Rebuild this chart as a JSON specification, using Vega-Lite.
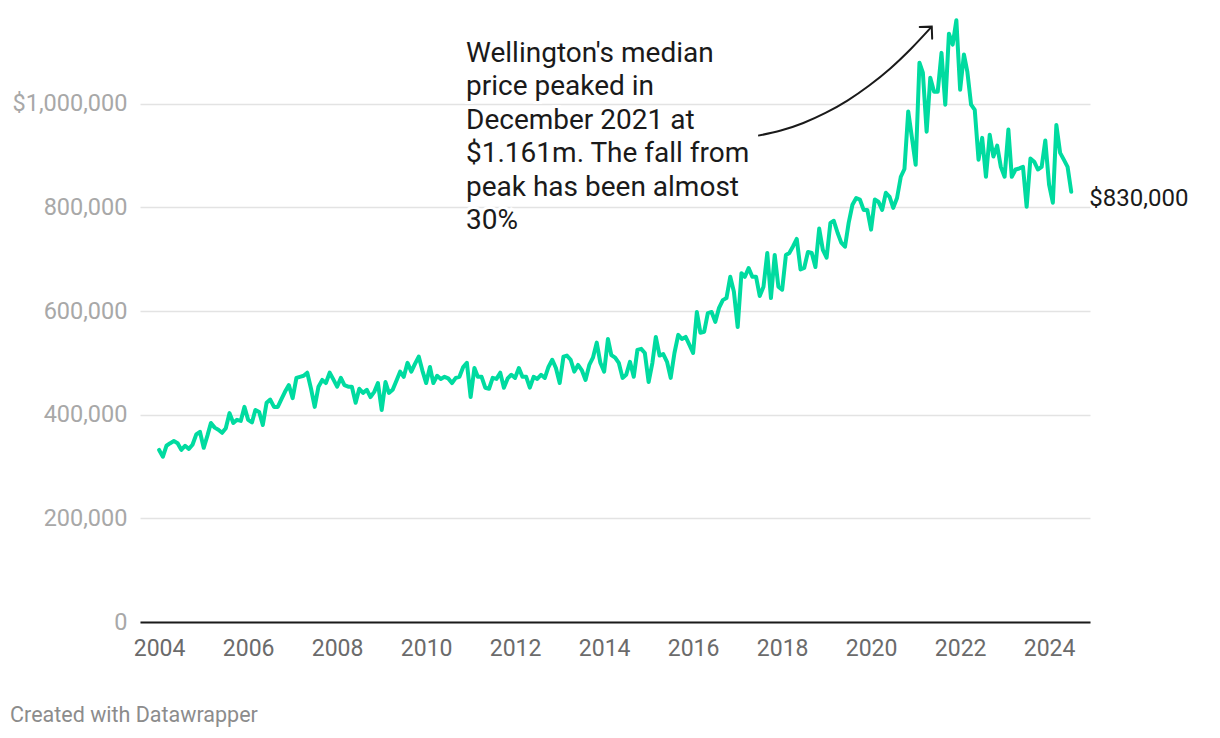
{
"$schema": "https://vega.github.io/schema/vega-lite/v6.json",
"width": 950, "height": 622,
"autosize": "none",
"padding": {"left": 140, "top": 0, "right": 130, "bottom": 116},
"background": "white",
"config": {"view": {"stroke": null}, "font": "Roboto"},
"title": {"text": "Created with Datawrapper", "orient": "bottom", "anchor": "start", "dx": -2, "offset": 45, "fontSize": 21.5, "fontWeight": "normal", "color": "#8c8c8c", "font": "Roboto"},
"datasets": {
"series": [
{"d":"2004-01-01","v":332000},{"d":"2004-02-01","v":319000},{"d":"2004-03-01","v":340000},{"d":"2004-04-01","v":345000},{"d":"2004-05-01","v":349000},{"d":"2004-06-01","v":345000},{"d":"2004-07-01","v":332000},{"d":"2004-08-01","v":340000},{"d":"2004-09-01","v":334000},{"d":"2004-10-01","v":342000},{"d":"2004-11-01","v":362000},{"d":"2004-12-01","v":367000},
{"d":"2005-01-01","v":336000},{"d":"2005-02-01","v":360000},{"d":"2005-03-01","v":384000},{"d":"2005-04-01","v":375000},{"d":"2005-05-01","v":371000},{"d":"2005-06-01","v":365000},{"d":"2005-07-01","v":374000},{"d":"2005-08-01","v":403000},{"d":"2005-09-01","v":384000},{"d":"2005-10-01","v":390000},{"d":"2005-11-01","v":388000},{"d":"2005-12-01","v":415000},
{"d":"2006-01-01","v":390000},{"d":"2006-02-01","v":385000},{"d":"2006-03-01","v":409000},{"d":"2006-04-01","v":405000},{"d":"2006-05-01","v":380000},{"d":"2006-06-01","v":423000},{"d":"2006-07-01","v":429000},{"d":"2006-08-01","v":415000},{"d":"2006-09-01","v":415000},{"d":"2006-10-01","v":430000},{"d":"2006-11-01","v":445000},{"d":"2006-12-01","v":457000},
{"d":"2007-01-01","v":432000},{"d":"2007-02-01","v":471000},{"d":"2007-03-01","v":473000},{"d":"2007-04-01","v":475000},{"d":"2007-05-01","v":481000},{"d":"2007-06-01","v":450000},{"d":"2007-07-01","v":415000},{"d":"2007-08-01","v":454000},{"d":"2007-09-01","v":467000},{"d":"2007-10-01","v":461000},{"d":"2007-11-01","v":481000},{"d":"2007-12-01","v":468000},
{"d":"2008-01-01","v":454000},{"d":"2008-02-01","v":471000},{"d":"2008-03-01","v":457000},{"d":"2008-04-01","v":454000},{"d":"2008-05-01","v":454000},{"d":"2008-06-01","v":423000},{"d":"2008-07-01","v":450000},{"d":"2008-08-01","v":442000},{"d":"2008-09-01","v":448000},{"d":"2008-10-01","v":434000},{"d":"2008-11-01","v":444000},{"d":"2008-12-01","v":461000},
{"d":"2009-01-01","v":409000},{"d":"2009-02-01","v":463000},{"d":"2009-03-01","v":442000},{"d":"2009-04-01","v":448000},{"d":"2009-05-01","v":465000},{"d":"2009-06-01","v":483000},{"d":"2009-07-01","v":473000},{"d":"2009-08-01","v":500000},{"d":"2009-09-01","v":483000},{"d":"2009-10-01","v":498000},{"d":"2009-11-01","v":512000},{"d":"2009-12-01","v":485000},
{"d":"2010-01-01","v":461000},{"d":"2010-02-01","v":492000},{"d":"2010-03-01","v":461000},{"d":"2010-04-01","v":475000},{"d":"2010-05-01","v":469000},{"d":"2010-06-01","v":473000},{"d":"2010-07-01","v":470000},{"d":"2010-08-01","v":461000},{"d":"2010-09-01","v":471000},{"d":"2010-10-01","v":473000},{"d":"2010-11-01","v":492000},{"d":"2010-12-01","v":500000},
{"d":"2011-01-01","v":434000},{"d":"2011-02-01","v":490000},{"d":"2011-03-01","v":473000},{"d":"2011-04-01","v":473000},{"d":"2011-05-01","v":452000},{"d":"2011-06-01","v":450000},{"d":"2011-07-01","v":471000},{"d":"2011-08-01","v":469000},{"d":"2011-09-01","v":481000},{"d":"2011-10-01","v":452000},{"d":"2011-11-01","v":470000},{"d":"2011-12-01","v":477000},
{"d":"2012-01-01","v":471000},{"d":"2012-02-01","v":490000},{"d":"2012-03-01","v":473000},{"d":"2012-04-01","v":473000},{"d":"2012-05-01","v":452000},{"d":"2012-06-01","v":473000},{"d":"2012-07-01","v":469000},{"d":"2012-08-01","v":477000},{"d":"2012-09-01","v":471000},{"d":"2012-10-01","v":492000},{"d":"2012-11-01","v":506000},{"d":"2012-12-01","v":490000},
{"d":"2013-01-01","v":461000},{"d":"2013-02-01","v":512000},{"d":"2013-03-01","v":514000},{"d":"2013-04-01","v":506000},{"d":"2013-05-01","v":483000},{"d":"2013-06-01","v":496000},{"d":"2013-07-01","v":486000},{"d":"2013-08-01","v":467000},{"d":"2013-09-01","v":496000},{"d":"2013-10-01","v":510000},{"d":"2013-11-01","v":539000},{"d":"2013-12-01","v":500000},
{"d":"2014-01-01","v":483000},{"d":"2014-02-01","v":546000},{"d":"2014-03-01","v":515000},{"d":"2014-04-01","v":510000},{"d":"2014-05-01","v":500000},{"d":"2014-06-01","v":471000},{"d":"2014-07-01","v":477000},{"d":"2014-08-01","v":502000},{"d":"2014-09-01","v":473000},{"d":"2014-10-01","v":525000},{"d":"2014-11-01","v":527000},{"d":"2014-12-01","v":519000},
{"d":"2015-01-01","v":463000},{"d":"2015-02-01","v":500000},{"d":"2015-03-01","v":550000},{"d":"2015-04-01","v":514000},{"d":"2015-05-01","v":517000},{"d":"2015-06-01","v":502000},{"d":"2015-07-01","v":471000},{"d":"2015-08-01","v":519000},{"d":"2015-09-01","v":554000},{"d":"2015-10-01","v":546000},{"d":"2015-11-01","v":550000},{"d":"2015-12-01","v":535000},
{"d":"2016-01-01","v":519000},{"d":"2016-02-01","v":598000},{"d":"2016-03-01","v":558000},{"d":"2016-04-01","v":560000},{"d":"2016-05-01","v":596000},{"d":"2016-06-01","v":598000},{"d":"2016-07-01","v":579000},{"d":"2016-08-01","v":606000},{"d":"2016-09-01","v":621000},{"d":"2016-10-01","v":625000},{"d":"2016-11-01","v":666000},{"d":"2016-12-01","v":637000},
{"d":"2017-01-01","v":569000},{"d":"2017-02-01","v":673000},{"d":"2017-03-01","v":666000},{"d":"2017-04-01","v":683000},{"d":"2017-05-01","v":666000},{"d":"2017-06-01","v":666000},{"d":"2017-07-01","v":629000},{"d":"2017-08-01","v":647000},{"d":"2017-09-01","v":712000},{"d":"2017-10-01","v":625000},{"d":"2017-11-01","v":708000},{"d":"2017-12-01","v":647000},
{"d":"2018-01-01","v":641000},{"d":"2018-02-01","v":708000},{"d":"2018-03-01","v":712000},{"d":"2018-04-01","v":725000},{"d":"2018-05-01","v":739000},{"d":"2018-06-01","v":680000},{"d":"2018-07-01","v":683000},{"d":"2018-08-01","v":714000},{"d":"2018-09-01","v":712000},{"d":"2018-10-01","v":685000},{"d":"2018-11-01","v":759000},{"d":"2018-12-01","v":718000},
{"d":"2019-01-01","v":703000},{"d":"2019-02-01","v":770000},{"d":"2019-03-01","v":774000},{"d":"2019-04-01","v":751000},{"d":"2019-05-01","v":732000},{"d":"2019-06-01","v":724000},{"d":"2019-07-01","v":770000},{"d":"2019-08-01","v":805000},{"d":"2019-09-01","v":818000},{"d":"2019-10-01","v":815000},{"d":"2019-11-01","v":795000},{"d":"2019-12-01","v":795000},
{"d":"2020-01-01","v":757000},{"d":"2020-02-01","v":815000},{"d":"2020-03-01","v":811000},{"d":"2020-04-01","v":795000},{"d":"2020-05-01","v":828000},{"d":"2020-06-01","v":820000},{"d":"2020-07-01","v":799000},{"d":"2020-08-01","v":818000},{"d":"2020-09-01","v":859000},{"d":"2020-10-01","v":874000},{"d":"2020-11-01","v":985000},{"d":"2020-12-01","v":935000},
{"d":"2021-01-01","v":882000},{"d":"2021-02-01","v":1079000},{"d":"2021-03-01","v":1060000},{"d":"2021-04-01","v":946000},{"d":"2021-05-01","v":1050000},{"d":"2021-06-01","v":1023000},{"d":"2021-07-01","v":1023000},{"d":"2021-08-01","v":1098000},{"d":"2021-09-01","v":998000},{"d":"2021-10-01","v":1135000},{"d":"2021-11-01","v":1114000},{"d":"2021-12-01","v":1161000},
{"d":"2022-01-01","v":1027000},{"d":"2022-02-01","v":1095000},{"d":"2022-03-01","v":1062000},{"d":"2022-04-01","v":998000},{"d":"2022-05-01","v":988000},{"d":"2022-06-01","v":892000},{"d":"2022-07-01","v":934000},{"d":"2022-08-01","v":859000},{"d":"2022-09-01","v":940000},{"d":"2022-10-01","v":898000},{"d":"2022-11-01","v":919000},{"d":"2022-12-01","v":878000},
{"d":"2023-01-01","v":859000},{"d":"2023-02-01","v":950000},{"d":"2023-03-01","v":859000},{"d":"2023-04-01","v":873000},{"d":"2023-05-01","v":875000},{"d":"2023-06-01","v":878000},{"d":"2023-07-01","v":801000},{"d":"2023-08-01","v":894000},{"d":"2023-09-01","v":888000},{"d":"2023-10-01","v":873000},{"d":"2023-11-01","v":878000},{"d":"2023-12-01","v":929000},
{"d":"2024-01-01","v":844000},{"d":"2024-02-01","v":809000},{"d":"2024-03-01","v":959000},{"d":"2024-04-01","v":905000},{"d":"2024-05-01","v":892000},{"d":"2024-06-01","v":878000},{"d":"2024-07-01","v":830000}
],
"end": [{"d":"2024-07-01","v":830000,"label":"$830,000"}],
"note": [{"d":"2010-11-24","v":1081000,"t":"Wellington's median\nprice peaked in\nDecember 2021 at\n$1.161m. The fall from\npeak has been almost\n30%"}],
"arrow": [
{"d":"2017-06-18","v":938300},{"d":"2017-12-21","v":948100},{"d":"2018-06-24","v":962800},{"d":"2018-12-23","v":982100},{"d":"2019-06-21","v":1006000},{"d":"2019-12-14","v":1034500},{"d":"2020-06-07","v":1067900},{"d":"2020-11-24","v":1105900},{"d":"2021-05-13","v":1148600}
],
"head": [{"d":"2021-05-13","v":1148600}]
},
"layer": [
{
"data": {"name": "series"},
"mark": {"type": "line", "color": "#00dba0", "strokeWidth": 4, "strokeJoin": "round", "strokeCap": "round"},
"encoding": {
"x": {"field": "d", "type": "temporal",
"scale": {"type": "utc", "domain": [{"year": 2003, "month": 7, "date": 28, "utc": true}, {"year": 2024, "month": 12, "date": 2, "utc": true}]},
"axis": {"title": null, "values": [{"year":2004,"utc":true},{"year":2006,"utc":true},{"year":2008,"utc":true},{"year":2010,"utc":true},{"year":2012,"utc":true},{"year":2014,"utc":true},{"year":2016,"utc":true},{"year":2018,"utc":true},{"year":2020,"utc":true},{"year":2022,"utc":true},{"year":2024,"utc":true}],
"labelExpr": "utcFormat(datum.value, '%Y')", "grid": false, "ticks": false, "tickSize": 0, "labelPadding": 15,
"labelFontSize": 23, "labelColor": "#6b6b6b", "labelFont": "Roboto", "domainColor": "#1a1a1a", "domainWidth": 2, "zindex": 2}},
"y": {"field": "v", "type": "quantitative",
"scale": {"domain": [0, 1200000], "nice": false, "zero": true},
"axis": {"title": null, "values": [0, 200000, 400000, 600000, 800000, 1000000],
"labelExpr": "datum.value == 1000000 ? '$1,000,000' : format(datum.value, ',')",
"domain": false, "ticks": false, "tickSize": 0, "labelPadding": 13, "labelFontSize": 23.5, "labelColor": "#a8a8a8", "labelFont": "Roboto",
"gridColor": "#e3e3e3", "gridWidth": 1.5}}
}
},
{
"data": {"name": "end"},
"mark": {"type": "text", "align": "left", "baseline": "alphabetic", "dx": 18, "dy": 14, "fontSize": 24, "color": "#1a1a1a", "font": "Roboto"},
"encoding": {"x": {"field": "d", "type": "temporal"}, "y": {"field": "v", "type": "quantitative"}, "text": {"field": "label"}}
},
{
"data": {"name": "note"},
"mark": {"type": "text", "align": "left", "baseline": "alphabetic", "fontSize": 28, "lineHeight": 33.5, "lineBreak": "\n", "color": "white", "stroke": "white", "strokeWidth": 6, "font": "Roboto"},
"encoding": {"x": {"field": "d", "type": "temporal"}, "y": {"field": "v", "type": "quantitative"}, "text": {"field": "t"}}
},
{
"data": {"name": "note"},
"mark": {"type": "text", "align": "left", "baseline": "alphabetic", "fontSize": 28, "lineHeight": 33.5, "lineBreak": "\n", "color": "#1a1a1a", "font": "Roboto"},
"encoding": {"x": {"field": "d", "type": "temporal"}, "y": {"field": "v", "type": "quantitative"}, "text": {"field": "t"}}
},
{
"data": {"name": "arrow"},
"mark": {"type": "line", "interpolate": "monotone", "color": "#1a1a1a", "strokeWidth": 2},
"encoding": {"x": {"field": "d", "type": "temporal"}, "y": {"field": "v", "type": "quantitative"}}
},
{
"data": {"name": "head"},
"mark": {"type": "point", "shape": "M-1,1L0,0L1,1", "angle": 43, "size": 289, "filled": false, "stroke": "#1a1a1a", "strokeWidth": 2, "opacity": 1, "strokeCap": "round", "strokeJoin": "miter"},
"encoding": {"x": {"field": "d", "type": "temporal"}, "y": {"field": "v", "type": "quantitative"}}
}
]
}
